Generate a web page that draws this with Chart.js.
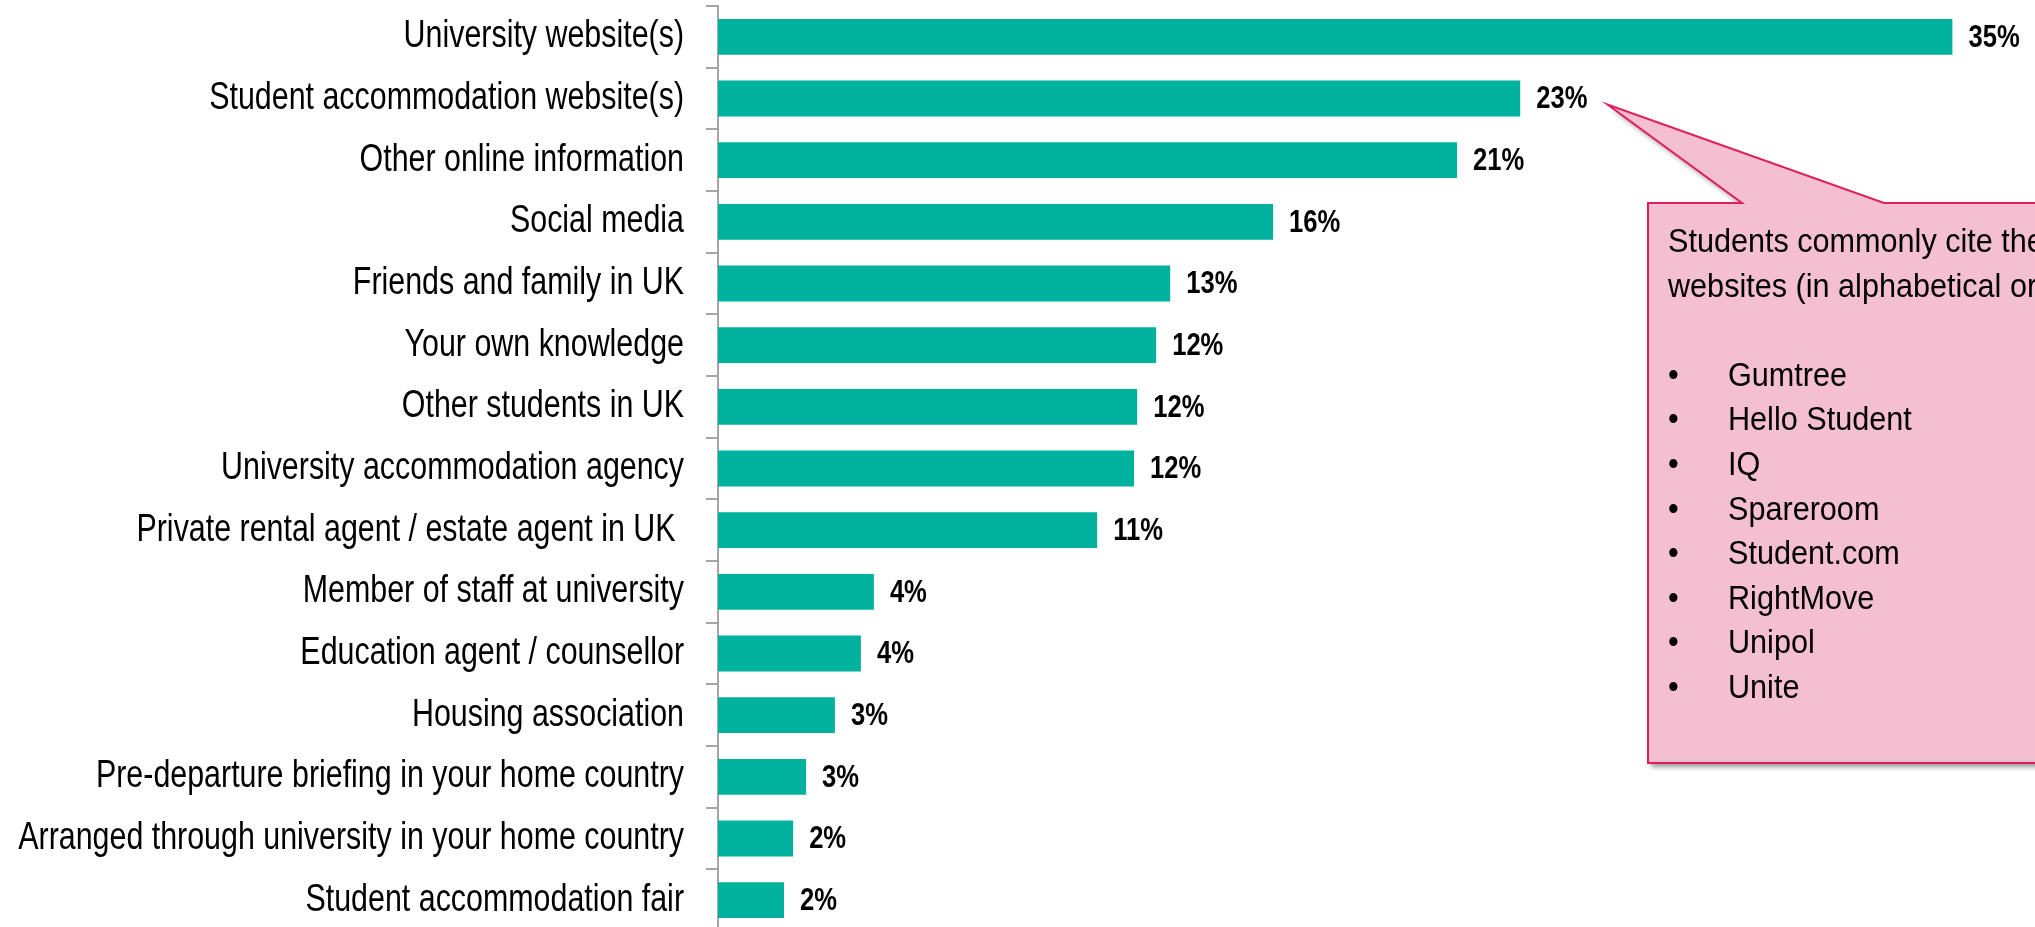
<!DOCTYPE html>
<html>
<head>
<meta charset="utf-8">
<title>Sources of accommodation information</title>
<script src="https://cdn.jsdelivr.net/npm/chart.js@4.4.1/dist/chart.umd.min.js"></script>
<style>
  html, body { margin: 0; padding: 0; background: #fff; overflow: hidden; }
  canvas { display: block; }
</style>
</head>
<body>
<canvas id="sourcesChart" width="2035" height="937"></canvas>
<script>
// Where students looked for accommodation information (% of respondents)
const categories = [
    'University website(s)',
    'Student accommodation website(s)',
    'Other online information',
    'Social media',
    'Friends and family in UK',
    'Your own knowledge',
    'Other students in UK',
    'University accommodation agency',
    'Private rental agent / estate agent in UK ',
    'Member of staff at university',
    'Education agent / counsellor',
    'Housing association',
    'Pre-departure briefing in your home country',
    'Arranged through university in your home country',
    'Student accommodation fair'
];
const shares = [35.16, 22.85, 21.05, 15.81, 12.88, 12.48, 11.94, 11.85, 10.80, 4.44, 4.07, 3.33, 2.51, 2.14, 1.88];

// Callout text
const noteLines = ['Students commonly cite the following', 'websites (in alphabetical order):'];
const noteSites = ['Gumtree', 'Hello Student', 'IQ', 'Spareroom', 'Student.com', 'RightMove', 'Unipol', 'Unite'];

const BAR_COLOR = '#00B29E';
const AXIS_COLOR = '#A6A6A6';
const SANS = '"Liberation Sans", Arial, sans-serif';

// text squeezed horizontally (the slide used a condensed face)
function narrowText(ctx, text, x, y, squeeze) {
    ctx.save();
    ctx.translate(x, y);
    ctx.scale(squeeze, 1);
    ctx.fillText(text, 0, 0);
    ctx.restore();
}

// Category names left of the axis
const categoryLabels = {
    id: 'categoryLabels',
    afterDraw(chart) {
        const ctx = chart.ctx;
        const yScale = chart.scales.y;
        ctx.save();
        ctx.font = '38px ' + SANS;
        ctx.fillStyle = '#000';
        ctx.textAlign = 'right';
        ctx.textBaseline = 'middle';
        categories.forEach((name, i) => {
            narrowText(ctx, name, yScale.right - 34, yScale.getPixelForTick(i), 0.8);
        });
        ctx.restore();
    }
};

// Percent labels at the end of each bar
const valueLabels = {
    id: 'valueLabels',
    afterDatasetsDraw(chart) {
        const ctx = chart.ctx;
        const meta = chart.getDatasetMeta(0);
        ctx.save();
        ctx.font = 'bold 32px ' + SANS;
        ctx.fillStyle = '#000';
        ctx.textAlign = 'left';
        ctx.textBaseline = 'middle';
        meta.data.forEach((bar, i) => {
            narrowText(ctx, Math.round(shares[i]) + '%', bar.x + 16, bar.y + 1, 0.8);
        });
        ctx.restore();
    }
};

// Pink speech box pointing at the accommodation websites bar
const calloutNote = {
    id: 'calloutNote',
    afterDraw(chart) {
        const ctx = chart.ctx;
        const bar = chart.getDatasetMeta(0).data[1];
        ctx.save();
        ctx.font = 'bold 32px ' + SANS;
        const labelW = ctx.measureText(Math.round(shares[1]) + '%').width * 0.8;
        const tipX = bar.x + 16 + labelW + 20;
        const tipY = bar.y + 6;

        const left = 1648, top = 203, bottom = 763, right = chart.width + 40;
        ctx.beginPath();
        ctx.moveTo(left, top);
        ctx.lineTo(1742, top);
        ctx.lineTo(tipX, tipY);
        ctx.lineTo(1884, top);
        ctx.lineTo(right, top);
        ctx.lineTo(right, bottom);
        ctx.lineTo(left, bottom);
        ctx.closePath();

        ctx.shadowColor = 'rgba(0, 0, 0, 0.4)';
        ctx.shadowBlur = 5;
        ctx.shadowOffsetX = 3;
        ctx.shadowOffsetY = 4;
        ctx.fillStyle = '#F4BFD1';
        ctx.fill();
        ctx.shadowColor = 'transparent';
        ctx.lineWidth = 2;
        ctx.strokeStyle = '#E01E5F';
        ctx.stroke();

        ctx.font = '34px ' + SANS;
        ctx.fillStyle = '#000';
        ctx.textAlign = 'left';
        ctx.textBaseline = 'alphabetic';
        const lineH = 44.6;
        let y = 252;
        noteLines.forEach(line => {
            narrowText(ctx, line, 1668, y, 0.9);
            y += lineH;
        });
        y += lineH;
        noteSites.forEach(site => {
            narrowText(ctx, '\u2022', 1668, y, 0.9);
            narrowText(ctx, site, 1728, y, 0.9);
            y += lineH;
        });
        ctx.restore();
    }
};

new Chart(document.getElementById('sourcesChart'), {
    type: 'bar',
    data: {
        labels: categories,
        datasets: [{
            data: shares,
            backgroundColor: BAR_COLOR,
            borderWidth: 0,
            barPercentage: 0.58,
            categoryPercentage: 1
        }]
    },
    options: {
        indexAxis: 'y',
        responsive: false,
        animation: false,
        layout: { padding: { top: 6, bottom: 6, left: 0, right: 18 } },
        plugins: {
            legend: { display: false },
            tooltip: { enabled: false }
        },
        scales: {
            x: { display: false, min: 0, max: 37 },
            y: {
                afterFit(scale) { scale.width = 718; },
                grid: {
                    drawOnChartArea: false,
                    drawTicks: true,
                    tickLength: 12,
                    color: AXIS_COLOR,
                    lineWidth: 2,
                    offset: true
                },
                border: { display: true, color: AXIS_COLOR, width: 2 },
                ticks: { display: false, autoSkip: false }
            }
        }
    },
    plugins: [valueLabels, categoryLabels, calloutNote]
});
</script>
</body>
</html>
